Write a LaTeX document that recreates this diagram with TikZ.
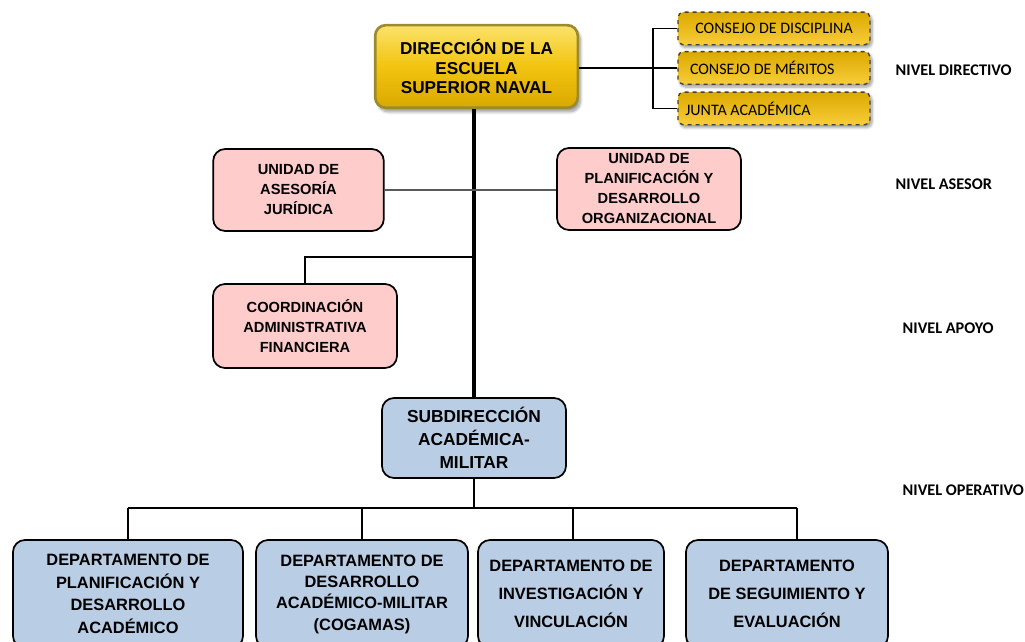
\documentclass[tikz,border=0pt]{standalone}
\usepackage{fontspec}
\setmainfont{Liberation Sans}
\newfontfamily\calfont{Carlito}
\usetikzlibrary{shadows.blur}
\definecolor{pinkfill}{HTML}{FFCCCC}
\definecolor{bluefill}{HTML}{B9CDE5}
\definecolor{goldtop}{HTML}{FBE26A}
\definecolor{goldmid}{HTML}{F2C40F}
\definecolor{goldbot}{HTML}{D9A800}
\definecolor{goldedge}{HTML}{9C8A2E}
\definecolor{cgtop}{HTML}{DDA900}
\definecolor{cgbot}{HTML}{F7CD3A}
\tikzset{
  box/.style={draw=black, line width=1.3pt, rounded corners=9pt, align=center, inner sep=1pt},
  pinkbox/.style={box, fill=pinkfill, font=\bfseries\fontsize{11}{15}\selectfont},
  bluebox/.style={box, fill=bluefill},
  mainbox/.style={draw=goldedge, line width=2pt, rounded corners=8pt, align=center,
     top color=goldtop, bottom color=goldbot, middle color=goldmid,
     blur shadow={shadow xshift=2pt, shadow yshift=-3pt, shadow blur steps=8},
     font=\bfseries\fontsize{12.9}{14.6}\selectfont,
     minimum width=152pt, minimum height=62pt},
  consbox/.style={draw=black!75, dashed, line width=1pt, rounded corners=4pt,
     top color=cgtop, bottom color=cgbot, anchor=center, inner xsep=4pt,
     blur shadow={shadow xshift=1.5pt, shadow yshift=-2pt, shadow blur steps=5},
     minimum width=144pt, minimum height=24.5pt,
     font=\calfont\fontsize{12}{13}\selectfont},
  nivel/.style={anchor=west, font=\calfont\bfseries\fontsize{12.2}{13}\selectfont},
  conn/.style={draw=black, line width=1.1pt},
  trunk/.style={draw=black, line width=2.4pt},
}
\newcommand{\constext}[2]{\makebox[136pt][l]{\hspace*{#1}#2}}
\begin{document}
\begin{tikzpicture}[x=0.75pt, y=-0.75pt]
\useasboundingbox (0,0) rectangle (1025,642);
\coordinate (tk) at (474,108);
% main
\node[mainbox] (main) at (476.5,66.5) {DIRECCIÓN DE LA\\ESCUELA\\SUPERIOR NAVAL};
% consejos
\node[consbox] (cd) at (774,28.5) {\constext{9pt}{CONSEJO DE DISCIPLINA}};
\node[consbox] (cm) at (774,68) {\constext{5pt}{CONSEJO DE MÉRITOS}};
\node[consbox] (ja) at (774,108.5) {\constext{1.5pt}{JUNTA ACADÉMICA}};
\coordinate (br) at (653,68);
\draw[conn, line width=0.9pt] (main.east |- br) -- (cm.west);
\draw[conn, line width=0.9pt] (cd.west) -- (cd.west -| br) -- (ja.west -| br) -- (ja.west);
% asesor
\node[pinkbox, minimum width=128pt, minimum height=61.5pt] (uaj) at (298.5,190) {UNIDAD DE\\ASESORÍA\\JURÍDICA};
\node[pinkbox, minimum width=138pt, minimum height=61.5pt] (upd) at (649,189) {UNIDAD DE\\PLANIFICACIÓN Y\\DESARROLLO\\ORGANIZACIONAL};
% apoyo
\node[pinkbox, minimum width=138pt, minimum height=63pt] (caf) at (305,326) {COORDINACIÓN\\ADMINISTRATIVA\\FINANCIERA};
% sub
\node[bluebox, minimum width=138pt, minimum height=60pt, font=\bfseries\fontsize{13}{17.25}\selectfont] (sub) at (474,438) {SUBDIRECCIÓN\\ACADÉMICA-\\MILITAR};
% departments
\node[bluebox, minimum width=172.5pt, minimum height=81pt, font=\bfseries\fontsize{12.3}{17}\selectfont] (d1) at (128,594) {DEPARTAMENTO DE\\PLANIFICACIÓN Y\\DESARROLLO\\ACADÉMICO};
\node[bluebox, minimum width=159pt, minimum height=81pt, font=\bfseries\fontsize{12.3}{16}\selectfont] (d2) at (362,594) {DEPARTAMENTO DE\\DESARROLLO\\ACADÉMICO-MILITAR\\(COGAMAS)};
\node[bluebox, minimum width=139.5pt, minimum height=81pt, font=\bfseries\fontsize{12.3}{21}\selectfont] (d3) at (571,594) {DEPARTAMENTO DE\\INVESTIGACIÓN Y\\VINCULACIÓN};
\node[bluebox, minimum width=151.5pt, minimum height=81pt, font=\bfseries\fontsize{12.3}{21}\selectfont] (d4) at (787,594) {DEPARTAMENTO\\DE SEGUIMIENTO Y\\EVALUACIÓN};
% trunk
\draw[trunk] (main.south -| tk) -- (sub.north -| tk);
\draw[draw=black!65, line width=1pt] (uaj.east) -- (upd.west |- uaj.east);
\coordinate (apoyo) at (474,257);
\draw[conn] (apoyo) -- (caf.north |- apoyo) -- (caf.north);
% bus
\coordinate (bus) at (474,508);
\draw[conn] (sub.south) -- (bus);
\draw[conn] (128,508) -- (797,508);
\draw[conn] (d1.north |- bus) -- (d1.north);
\draw[conn] (d2.north |- bus) -- (d2.north);
\draw[conn] (573,508) -- (573,540);
\draw[conn] (797,508) -- (797,540);
% levels
\node[nivel] (n1) at (891,70) {NIVEL DIRECTIVO};
\node[nivel] (n2) at (891,184) {NIVEL ASESOR};
\node[nivel] (n3) at (898,328) {NIVEL APOYO};
\node[nivel] (n4) at (898,490) {NIVEL OPERATIVO};
\end{tikzpicture}
\end{document}
